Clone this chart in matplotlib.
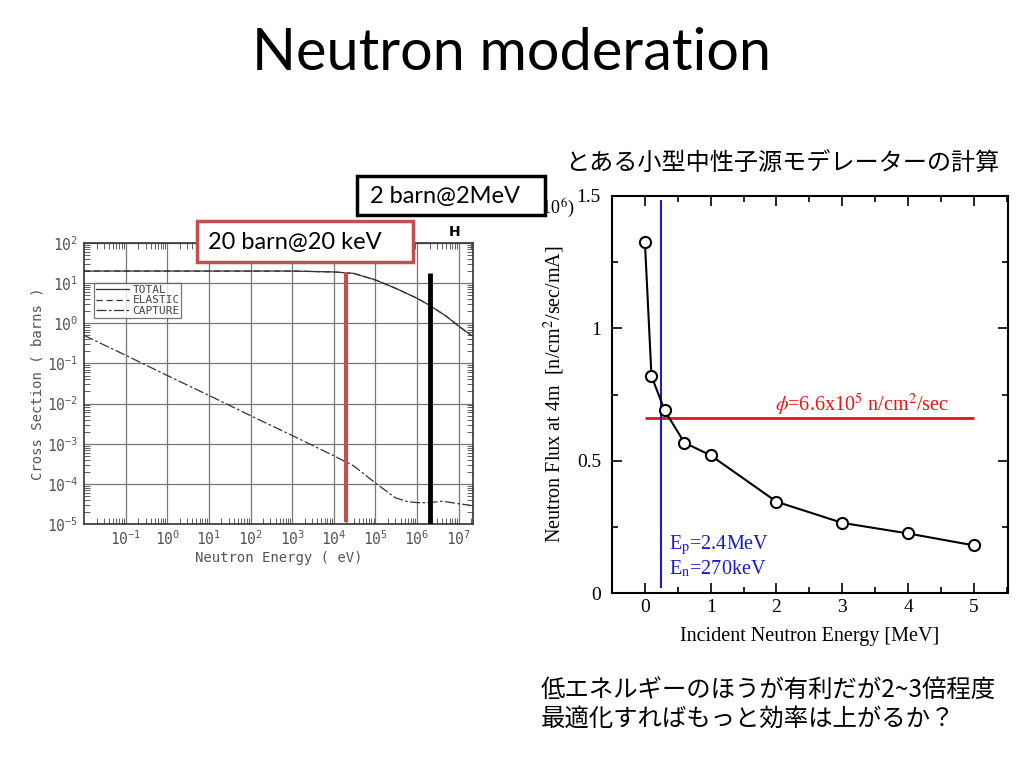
import matplotlib
matplotlib.use('Agg')
import matplotlib.pyplot as plt
from matplotlib.patches import Rectangle
from matplotlib.ticker import LogLocator, FixedLocator, NullFormatter, MultipleLocator

plt.rcParams['mathtext.fontset'] = 'stix'

W, H = 1024, 768

# left chart: hydrogen cross sections (barns vs eV)
total_E = [1e-2, 1e-1, 1, 10, 100, 1e3, 1e4, 3e4, 1e5, 3e5, 1e6, 2e6, 5e6, 1e7, 2e7]
total_xs = [20, 20, 20, 20, 20, 20, 19, 17.5, 12, 7.5, 4.2, 2.8, 1.5, 0.85, 0.5]
elastic_xs = [20, 20, 20, 20, 20, 20, 19, 17.5, 12, 7.5, 4.2, 2.8, 1.5, 0.85, 0.5]
capture_E = [1e-2, 1e-1, 1, 10, 100, 1e3, 1e4, 3e4, 1e5, 3e5, 6e5, 1e6, 2e6, 4e6, 1e7, 2e7]
capture_xs = [0.5, 0.16, 0.05, 0.016, 0.005, 0.0016, 5e-4, 2.8e-4, 1.05e-4, 4.5e-5, 3.6e-5, 3.4e-5, 3.4e-5, 3.7e-5, 3.2e-5, 2.9e-5]
marker_E = [2e4, 2e6]

# right chart: flux vs incident neutron energy
inc_E = [0, 0.1, 0.3, 0.6, 1, 2, 3, 4, 5]
flux = [1.327, 0.82, 0.69, 0.568, 0.52, 0.345, 0.265, 0.225, 0.18]
flux_level = 0.66
chosen_E = 0.24

fig = plt.figure(figsize=(10.24, 7.68), dpi=100)
fig.patch.set_facecolor('white')


def px(x, y):
    return x / W, 1 - y / H


def ftext(x, y, s, **kw):
    fx, fy = px(x, y)
    return fig.text(fx, fy, s, **kw)


def fbox(x0, y0, x1, y1, color):
    fig.patches.append(Rectangle((x0 / W, 1 - y1 / H), (x1 - x0) / W, (y1 - y0) / H,
                                 transform=fig.transFigure, facecolor='white',
                                 edgecolor=color, lw=2.5, zorder=5))


# title and Japanese text
ftext(512, 54, 'Neutron moderation', ha='center', va='center', fontsize=41.5, family='Lato')
jp = ['Noto Sans CJK JP', 'DejaVu Sans']
ftext(565, 163, 'とある小型中性子源モデレーターの計算', ha='left', va='center', fontsize=17.4, family=jp)
ftext(541, 690, '低エネルギーのほうが有利だが2~3倍程度', ha='left', va='center', fontsize=17.6, family=jp)
ftext(541, 719, '最適化すればもっと効率は上がるか？', ha='left', va='center', fontsize=17.6, family=jp)

# ---- left chart ----
gray = '#555555'
mono = 'DejaVu Sans Mono'
ax1 = fig.add_axes([84 / W, 1 - 524 / H, 389 / W, 281 / H])
ax1.set_xscale('log')
ax1.set_yscale('log')
ax1.set_xlim(1e-2, 2.2e7)
ax1.set_ylim(1e-5, 1e2)
ax1.plot(total_E, total_xs, color='#333333', lw=0.9, label='TOTAL')
ax1.plot(total_E, elastic_xs, color='#333333', lw=0.9, ls=(0, (5, 3)), label='ELASTIC')
ax1.plot(capture_E, capture_xs, color='#333333', lw=0.9, ls=(0, (8, 2, 2, 2)), label='CAPTURE')
ax1.vlines(marker_E[0], 1.1e-5, 19, color='#c0504d', lw=3, zorder=4)
ax1.vlines(marker_E[1], 1e-5, 18, color='black', lw=3.5, zorder=4)
ax1.xaxis.set_major_locator(FixedLocator([1e-1, 1, 1e1, 1e2, 1e3, 1e4, 1e5, 1e6, 1e7]))
ax1.xaxis.set_minor_locator(LogLocator(base=10, subs=range(2, 10), numticks=20))
ax1.yaxis.set_major_locator(LogLocator(base=10, numticks=10))
ax1.yaxis.set_minor_locator(LogLocator(base=10, subs=range(2, 10), numticks=20))
ax1.xaxis.set_minor_formatter(NullFormatter())
ax1.yaxis.set_minor_formatter(NullFormatter())
ax1.grid(True, which='major', color='#777777', lw=0.9)
ax1.tick_params(which='both', direction='in', top=True, right=True, colors='#444444')
ax1.tick_params(which='major', length=0, labelsize=10.5, labelcolor=gray, pad=4)
ax1.tick_params(which='minor', length=4, width=0.6)
for lbl in ax1.get_xticklabels() + ax1.get_yticklabels():
    lbl.set_family(mono)
for sp in ax1.spines.values():
    sp.set_color('#333333')
    sp.set_linewidth(1.2)
ax1.set_xlabel('Neutron Energy ( eV)', family=mono, color=gray, fontsize=10, labelpad=2)
ax1.set_ylabel('Cross Section ( barns )', family=mono, color=gray, fontsize=10, labelpad=2)
leg = ax1.legend(loc='upper left', bbox_to_anchor=(0.026, 0.857), fontsize=8, frameon=True,
                 fancybox=False, edgecolor='#555555', handlelength=3.0, handletextpad=0.3,
                 borderpad=0.15, labelspacing=0.05, borderaxespad=0)
leg.get_frame().set_linewidth(0.9)
for t in leg.get_texts():
    t.set_family(mono)
    t.set_color('#444444')
ftext(455, 232, 'H', ha='center', va='center', fontsize=10, fontweight='bold')

# ---- right chart ----
serif = ['Liberation Serif', 'DejaVu Serif']
ax2 = fig.add_axes([612 / W, 1 - 593 / H, 396 / W, 397 / H])
ax2.set_xlim(-0.5, 5.52)
ax2.set_ylim(0, 1.5)
ax2.plot(inc_E, flux, color='black', lw=1.5, marker='o', ms=8, mfc='white', mec='black', mew=1.5, zorder=3)
ax2.hlines(flux_level, 0, 5, color='#ee1111', lw=2, zorder=2)
ax2.vlines(chosen_E, 0.02, 1.485, color='#1a1acc', lw=1.5, zorder=2)
ax2.xaxis.set_minor_locator(MultipleLocator(0.5))
ax2.yaxis.set_minor_locator(MultipleLocator(0.25))
ax2.tick_params(which='both', direction='in', top=True, right=True)
ax2.tick_params(which='major', length=7, width=1.2)
ax2.tick_params(which='minor', length=4, width=1.2)
for sp in ax2.spines.values():
    sp.set_linewidth(1.5)
ax2.set_xticks([0, 1, 2, 3, 4, 5])
ax2.set_xticklabels(['0', '1', '2', '3', '4', '5'], family=serif, fontsize=14)
ax2.set_yticks([0, 0.5, 1, 1.5])
ax2.set_yticklabels(['0', '0.5', '1', '1.5'], family=serif, fontsize=14)
ax2.tick_params(axis='x', pad=4)
ax2.tick_params(axis='y', pad=8)
ax2.set_xlabel('Incident Neutron Energy [MeV]', family=serif, fontsize=14.5, labelpad=8)
ax2.set_ylabel('Neutron Flux at 4m  [n/cm$^2$/sec/mA]', family=serif, fontsize=14.5, labelpad=7)
ax2.text(1.98, 0.685, '$\\phi$=6.6x10$^5$ n/cm$^2$/sec', color='#ee1111', family=serif, fontsize=14.5,
         ha='left', va='baseline')
ax2.text(0.37, 0.165, 'E$_\\mathrm{p}$=2.4MeV', color='#1a1acc', family=serif, fontsize=14.5,
         ha='left', va='baseline')
ax2.text(0.37, 0.07, 'E$_\\mathrm{n}$=270keV', color='#1a1acc', family=serif, fontsize=14.5,
         ha='left', va='baseline')
ftext(575, 208, '(x10$^6$)', ha='right', va='center', family=serif, fontsize=13, zorder=1)

# callout boxes
fbox(197, 221, 413, 262, '#c0504d')
ftext(208, 242, '20 barn@20 keV', ha='left', va='center', fontsize=17, family='Lato', zorder=6)
fbox(357, 176, 545, 215, 'black')
ftext(370, 196, '2 barn@2MeV', ha='left', va='center', fontsize=17, family='Lato', zorder=6)

fig.savefig('out.png', dpi=100)
